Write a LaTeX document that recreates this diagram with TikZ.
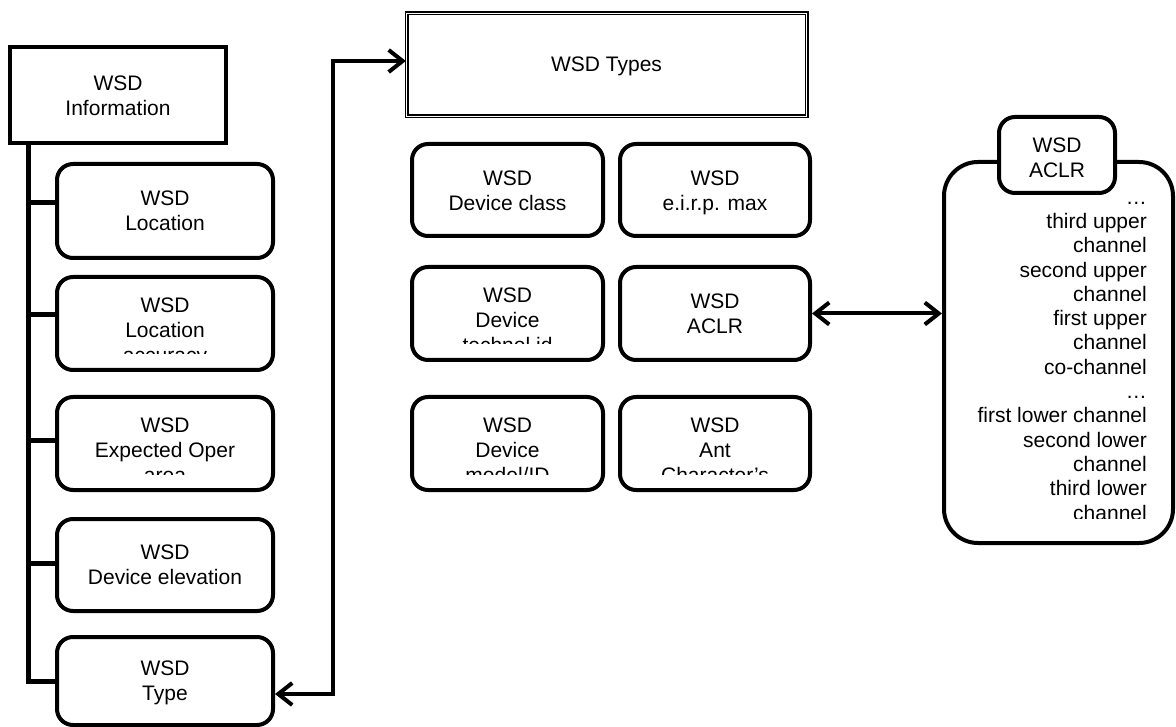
\documentclass[tikz,border=0pt]{standalone}
\usepackage{fontspec}
\setmainfont{Liberation Sans}
\usetikzlibrary{arrows.meta}
\begin{document}
\begin{tikzpicture}[x=1pt,y=-1pt,
  rbox/.style={draw, line width=4pt, rounded corners=16pt, fill=white, inner sep=0pt},
  sqbox/.style={draw, line width=4.5pt, fill=white, inner sep=0pt},
  dbox/.style={draw, double, line width=1.2pt, double distance=1.6pt, fill=white, inner sep=0pt},
  lbl/.style={inner sep=0pt, anchor=north, align=center, font=\fontsize{21}{25}\selectfont},
  conn/.style={line width=4pt},
  trunk/.style={line width=5pt},
  barb/.tip={Straight Barb[length=14pt,width=22pt]}
]
\useasboundingbox (0,0) rectangle (1176,727);

% ---------- left column ----------
\node[sqbox, minimum width=216pt, minimum height=96pt] (info) at (118,95) {};
\node[rbox, minimum width=216pt, minimum height=94pt] (loc) at (165,211) {};
\node[rbox, minimum width=216pt, minimum height=93pt] (locacc) at (165,323.5) {};
\node[rbox, minimum width=216pt, minimum height=93pt] (oper) at (165,443.5) {};
\node[rbox, minimum width=216pt, minimum height=92pt] (elev) at (165,565) {};
\node[rbox, minimum width=216pt, minimum height=88pt] (type) at (165,681) {};

% ---------- middle ----------
\node[dbox, minimum width=400pt, minimum height=103pt] (types) at (606.5,65) {};
\node[rbox, minimum width=191pt, minimum height=92pt] (dclass) at (507.5,190) {};
\node[rbox, minimum width=190pt, minimum height=92pt] (eirp) at (715,190) {};
\node[rbox, minimum width=191pt, minimum height=93pt] (techid) at (507.5,313.5) {};
\node[rbox, minimum width=190pt, minimum height=93pt] (aclr) at (715,313.5) {};
\node[rbox, minimum width=191pt, minimum height=93pt] (model) at (507.5,443.5) {};
\node[rbox, minimum width=190pt, minimum height=93pt] (ant) at (715,443.5) {};

% ---------- right ----------
\node[rbox, rounded corners=34pt, minimum width=229pt, minimum height=381pt] (big) at (1058.5,352.5) {};
\node[rbox, minimum width=116pt, minimum height=76pt] (aclrtop) at (1057,155) {};

% ---------- connectors ----------
\coordinate (tr0) at (28,145);
\coordinate (tr1) at (28,681);
\coordinate (b1) at (28,203);
\coordinate (b2) at (28,315);
\coordinate (b3) at (28,440);
\coordinate (b4) at (28,563);
\draw[trunk] (tr0) -- (tr1) -- (tr1 -| type.west);
\draw[trunk] (b1) -- (b1 -| loc.west);
\draw[trunk] (b2) -- (b2 -| locacc.west);
\draw[trunk] (b3) -- (b3 -| oper.west);
\draw[trunk] (b4) -- (b4 -| elev.west);

\coordinate (c1) at (333,694);
\coordinate (c2) at (333,61);
\draw[conn, barb-barb] (c1 -| type.east) -- (c1) -- (c2) -- (c2 -| types.west);
\draw[conn, barb-barb] (aclr.east) -- (aclr.east -| big.west);

% ---------- texts ----------
\node[lbl] (info-t) at (118,75.5) {WSD\\Information};
\node[lbl] (loc-t) at (165,191) {WSD\\Location};
\begin{scope}
  \clip (55,270) rectangle (275,354);
  \node[lbl] (locacc-t) at (165,297.5) {WSD\\Location\\accuracy};
\end{scope}
\begin{scope}
  \clip (55,390) rectangle (275,474);
  \node[lbl] (oper-t) at (165,417.5) {WSD\\Expected Oper\\area};
\end{scope}
\node[lbl] (elev-t) at (165,545) {WSD\\Device elevation};
\node[lbl] (type-t) at (165,661) {WSD\\Type};

\node[inner sep=0pt, font=\fontsize{21}{25}\selectfont] (types-t) at (606.5,66) {WSD Types};
\node[lbl] (dclass-t) at (507.5,170.5) {WSD\\Device class};
\node[lbl] (eirp-t) at (715,170.5) {WSD\\e.i.r.p. max};
\begin{scope}
  \clip (410,260) rectangle (605,344);
  \node[lbl] (techid-t) at (507.5,287.5) {WSD\\Device\\technol.id};
\end{scope}
\node[lbl] (aclr-t) at (715,293.5) {WSD\\ACLR};
\begin{scope}
  \clip (410,390) rectangle (605,474);
  \node[lbl] (model-t) at (507.5,417.5) {WSD\\Device\\model/ID};
\end{scope}
\begin{scope}
  \clip (618,390) rectangle (812,474);
  \node[lbl] (ant-t) at (715,417.5) {WSD\\Ant\\Character’s};
\end{scope}

\node[lbl] (aclrtop-t) at (1057,137.5) {WSD\\ACLR};
\begin{scope}
  \clip (944,197) rectangle (1176,518);
  \node[inner sep=0pt, anchor=north east, align=right, font=\fontsize{21}{24.3}\selectfont] (list-t) at (1147,189.5)
    {\vphantom{W}…\\third upper\\channel\\second upper\\channel\\first upper\\channel\\co-channel\\\vphantom{W}…\\first lower channel\\second lower\\channel\\third lower\\channel};
\end{scope}
\end{tikzpicture}
\end{document}
